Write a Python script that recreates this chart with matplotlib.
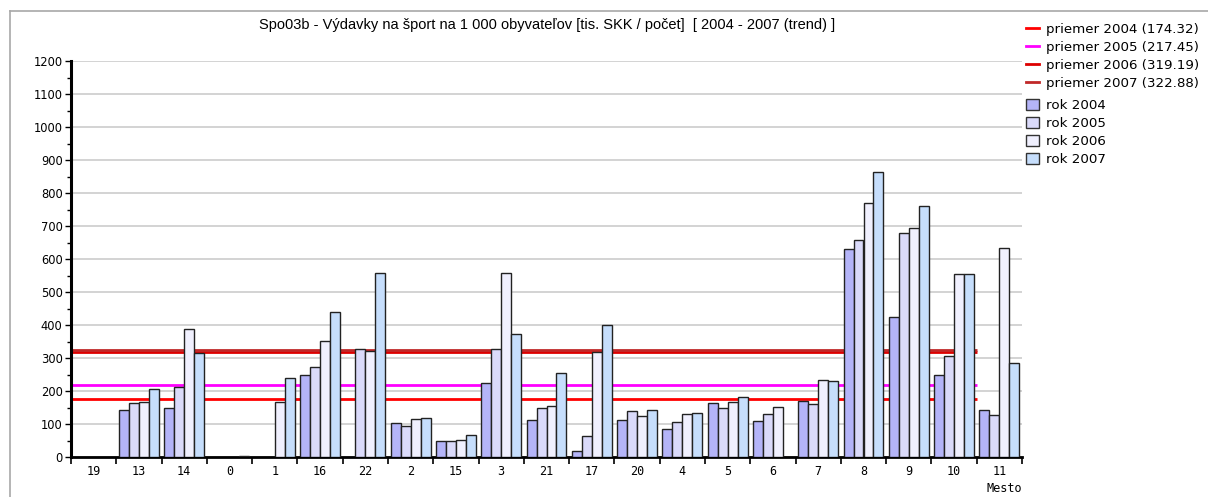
import numpy as np
import matplotlib.pyplot as plt
from matplotlib.lines import Line2D
from matplotlib.patches import Patch

nan = np.nan

mesta = ['19', '13', '14', '0', '1', '16', '22', '2', '15', '3', '21',
         '17', '20', '4', '5', '6', '7', '8', '9', '10', '11']

rok_2004 = [nan, 141, 149, nan, nan, 250, nan, 104, 48, 225, 112,
            18, 112, 86, 164, 108, 169, 630, 424, 247, 143]
rok_2005 = [nan, 164, 213, nan, nan, 272, 328, 93, 48, 328, 149,
            63, 138, 105, 149, 131, 162, 657, 680, 307, 128]
rok_2006 = [nan, 167, 388, nan, 167, 352, 320, 116, 52, 559, 156,
            317, 123, 131, 167, 153, 233, 770, 694, 556, 634]
rok_2007 = [nan, 205, 314, 4, 239, 440, 559, 119, 66, 374, 255,
            400, 142, 134, 182, nan, 229, 863, 762, 556, 286]

priemer_roky = ['2004', '2005', '2006', '2007']
priemer = [174.32, 217.45, 319.19, 322.88]

rady = [rok_2004, rok_2005, rok_2006, rok_2007]
bar_colors = ['#b4b4f8', '#dadafa', '#f0f0fe', '#c6defc']
line_colors = ['#ff0000', '#ff00ff', '#dd0000', '#c02828']

fig = plt.figure(figsize=(12.08, 4.97), dpi=100)
ax = fig.add_axes([71 / 1208, 40 / 497, 951 / 1208, 396 / 497])

x = np.arange(len(mesta))
w = 0.22
for i, vals in enumerate(rady):
    ax.bar(x + (i - 1.5) * w, vals, width=w, color=bar_colors[i],
           edgecolor='#222222', linewidth=1.0, zorder=3)

for i, p in enumerate(priemer):
    ax.hlines(p, -0.5, 19.5, color=line_colors[i], linewidth=2.0, zorder=2)

ax.set_xlim(-0.5, len(mesta) - 0.5)
ax.set_ylim(0, 1200)

# grid
ax.set_yticks(np.arange(0, 1201, 100))
ax.set_yticks(np.arange(50, 1200, 100), minor=True)
ax.yaxis.grid(True, which='major', color='#d0d0d0', linewidth=1.3, zorder=0)
ax.set_axisbelow(True)

# category boundaries as ticks, labels in the middle
ax.set_xticks(np.arange(-0.5, len(mesta), 1.0))
ax.set_xticklabels([])
ax.set_xticks(x, minor=True)
ax.set_xticklabels(mesta, minor=True, family='DejaVu Sans Mono', fontsize=8.5)
ax.tick_params(axis='x', which='major', length=5, width=1.2, direction='out')
ax.tick_params(axis='x', which='minor', length=0, pad=6)
ax.tick_params(axis='y', which='major', length=4, width=1, labelsize=8.3, pad=2)
ax.tick_params(axis='y', which='minor', length=3, width=1)

for s in ['top', 'right']:
    ax.spines[s].set_visible(False)
ax.spines['left'].set_linewidth(2.2)
ax.spines['bottom'].set_linewidth(2.0)

fig.text(1022 / 1208, 1 - 488 / 497, 'Mesto', ha='right', va='center',
         family='DejaVu Sans Mono', fontsize=8.5)

fig.text(547 / 1208, 1 - 25 / 497,
         'Spo03b - Výdavky na šport na 1 000 obyvateľov [tis. SKK / počet]  [ 2004 - 2007 (trend) ]',
         ha='center', va='center', family='Liberation Sans', fontsize=10.5)

# legend: average lines, then the years
h1 = [Line2D([], [], color=c, linewidth=2) for c in line_colors]
l1 = ['priemer %s (%.2f)' % (r, p) for r, p in zip(priemer_roky, priemer)]
h2 = [Patch(facecolor=c, edgecolor='#333333', linewidth=1) for c in bar_colors]
l2 = ['rok ' + r for r in priemer_roky]
leg_kw = dict(loc='upper left', frameon=False, fontsize=9.6, handlelength=0.95,
              handleheight=0.85, handletextpad=0.55, labelspacing=0.38,
              borderaxespad=0, borderpad=0)
fig.legend(h1, l1, bbox_to_anchor=(1026 / 1208, 1 - 23 / 497), **leg_kw)
fig.legend(h2, l2, bbox_to_anchor=(1026 / 1208, 1 - 99 / 497), **leg_kw)

# thin frame at top and left
fig.add_artist(Line2D([10 / 1208, 1], [1 - 11 / 497] * 2, color='#a8a8a8', linewidth=1.2))
fig.add_artist(Line2D([10 / 1208] * 2, [0, 1 - 11 / 497], color='#a8a8a8', linewidth=1.2))

fig.savefig('out.png', dpi=100)
